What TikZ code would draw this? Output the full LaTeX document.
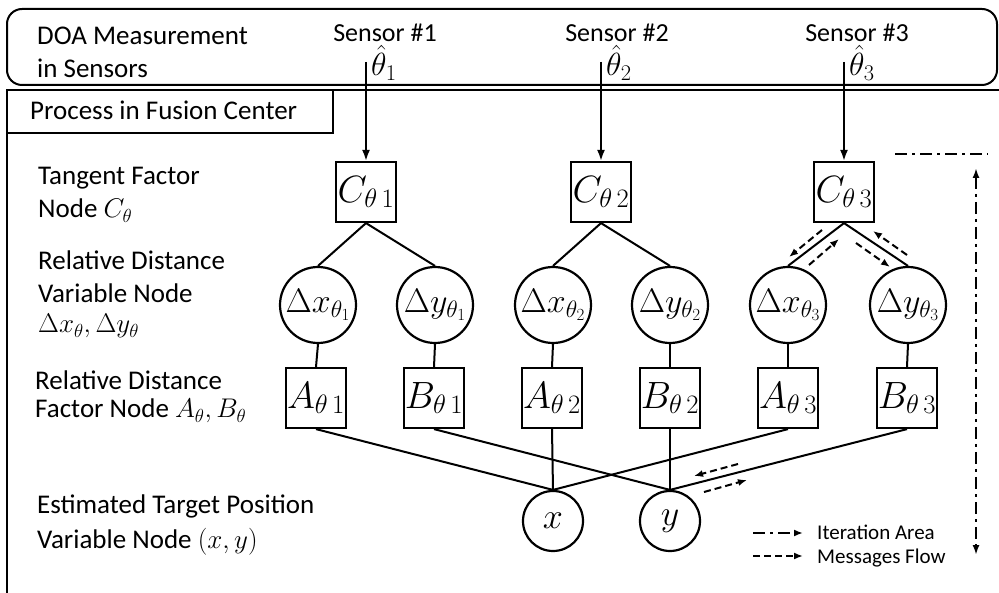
\RequirePackage{fix-cm}
\documentclass[tikz,border=0pt]{standalone}
\usepackage[no-math]{fontspec}
\setmainfont{Carlito}
\usetikzlibrary{arrows.meta}
\begin{document}
\begin{tikzpicture}[x=1pt,y=-1pt,
  fac/.style={draw,line width=2.2pt,minimum size=60pt,inner sep=0pt,font=\fontsize{38}{44}\selectfont},
  var/.style={circle,draw,line width=2.2pt,minimum size=76pt,inner sep=0pt,font=\fontsize{34}{40}\selectfont},
  tgt/.style={circle,draw,line width=2.2pt,minimum size=60pt,inner sep=0pt,font=\fontsize{36}{42}\selectfont},
  lab/.style={anchor=base west,font=\fontsize{27}{32}\selectfont,inner sep=0pt},
  sens/.style={anchor=base,font=\fontsize{26}{31}\selectfont,inner sep=0pt,text depth=0pt},
  hat/.style={anchor=base west,font=\fontsize{32}{38}\selectfont,inner sep=0pt},
  leg/.style={anchor=base west,font=\fontsize{21}{25}\selectfont,inner sep=0pt},
  edge/.style={line width=2pt},
  inarrow/.style={line width=2pt,-{Latex[length=11pt,width=8pt]}},
  msg/.style={line width=2pt,dash pattern=on 7pt off 4pt,-{Latex[length=9pt,width=7pt]}},
  iter/.style={line width=2pt,dash pattern=on 12pt off 5pt on 3pt off 5pt},
]
\useasboundingbox (0,0) rectangle (999,593);

% frames
\draw[line width=2pt,rounded corners=15pt] (7,9) rectangle (997,85);
\draw[line width=2pt] (7,593) -- (7,90) -- (999,90);
\draw[line width=2pt] (7,90) rectangle (333,133);

% header texts
\node[lab] (doa1) at (37,45) {DOA Measurement};
\node[lab] (doa2) at (37,78) {in Sensors};
\node[lab] (proc) at (30,120) {Process in Fusion Center};
\node[sens] (s1) at (385,42) {Sensor \#1};
\node[sens] (s2) at (617,42) {Sensor \#2};
\node[sens] (s3) at (857,42) {Sensor \#3};
\node[hat] (th1) at (371,76) {$\hat{\theta}_1$};
\node[hat] (th2) at (606,76) {$\hat{\theta}_2$};
\node[hat] (th3) at (849,76) {$\hat{\theta}_3$};

% left labels
\node[lab] (l1a) at (38,185) {Tangent Factor};
\node[lab] (l1b) at (38,218) {Node $C_\theta$};
\node[lab] (l2a) at (38,270) {Relative Distance};
\node[lab] (l2b) at (38,303) {Variable Node};
\node[lab] (l2c) at (38,333) {$\Delta x_\theta,\Delta y_\theta$};
\node[lab] (l3a) at (35,390) {Relative Distance};
\node[lab] (l3b) at (35,418) {Factor Node $A_\theta,B_\theta$};
\node[lab] (l4a) at (37,513) {Estimated Target Position};
\node[lab] (l4b) at (37,548) {Variable Node $(x,y)$};

% factor C
\node[fac] (C1) at (366,192) {$C_{\theta\,1}$};
\node[fac] (C2) at (601,192) {$C_{\theta\,2}$};
\node[fac] (C3) at (844,192) {$C_{\theta\,3}$};

% variable nodes
\node[var] (dx1) at (318,305) {$\Delta x_{\theta_1}$};
\node[var] (dy1) at (435,305) {$\Delta y_{\theta_1}$};
\node[var] (dx2) at (553,305) {$\Delta x_{\theta_2}$};
\node[var] (dy2) at (670,305) {$\Delta y_{\theta_2}$};
\node[var] (dx3) at (788,305) {$\Delta x_{\theta_3}$};
\node[var] (dy3) at (908,305) {$\Delta y_{\theta_3}$};

% A/B factor nodes
\node[fac] (A1) at (316,398) {$A_{\theta\,1}$};
\node[fac] (B1) at (434,398) {$B_{\theta\,1}$};
\node[fac] (A2) at (552,398) {$A_{\theta\,2}$};
\node[fac] (B2) at (670,398) {$B_{\theta\,2}$};
\node[fac] (A3) at (788,398) {$A_{\theta\,3}$};
\node[fac] (B3) at (907,398) {$B_{\theta\,3}$};

% target nodes
\node[tgt] (x) at (553,521) {$x$};
\node[tgt] (y) at (670,521) {$y$};

% input arrows
\coordinate (t1) at (366,62);
\coordinate (t2) at (601,62);
\coordinate (t3) at (844,62);
\draw[inarrow] (t1) -- (C1.north);
\draw[inarrow] (t2) -- (C2.north);
\draw[inarrow] (t3) -- (C3.north);

% edges
\foreach \c/\a/\b in {C1/dx1/dy1,C2/dx2/dy2,C3/dx3/dy3}{
  \draw[edge] (\c.south) -- (\a.north);
  \draw[edge] (\c.south) -- (\b.north);
}
\foreach \v/\f in {dx1/A1,dy1/B1,dx2/A2,dy2/B2,dx3/A3,dy3/B3}{
  \draw[edge] (\v.south) -- (\f.north);
}
\draw[edge] (A1.south) -- (x.north);
\draw[edge] (A2.south) -- (x.north);
\draw[edge] (A3.south) -- (x.north);
\draw[edge] (B1.south) -- (y.north);
\draw[edge] (B2.south) -- (y.north);
\draw[edge] (B3.south) -- (y.north);

% message flow arrows
\coordinate (m1a) at (822,230); \coordinate (m1b) at (789,257);
\coordinate (m2a) at (809,265); \coordinate (m2b) at (839,239);
\coordinate (m3a) at (856,243); \coordinate (m3b) at (890,267);
\coordinate (m4a) at (907,255); \coordinate (m4b) at (873,231);
\coordinate (m5a) at (738,464); \coordinate (m5b) at (694,476);
\coordinate (m6a) at (704,492); \coordinate (m6b) at (747,480);
\draw[msg] (m1a) -- (m1b);
\draw[msg] (m2a) -- (m2b);
\draw[msg] (m3a) -- (m3b);
\draw[msg] (m4a) -- (m4b);
\draw[msg] (m5a) -- (m5b);
\draw[msg] (m6a) -- (m6b);

% iteration area
\coordinate (i1) at (895,154); \coordinate (i2) at (988,154);
\coordinate (i3) at (976,168); \coordinate (i4) at (976,555);
\draw[iter] (i1) -- (i2);
\draw[iter,{Latex[length=10pt,width=7pt]}-{Latex[length=10pt,width=7pt]}] (i3) -- (i4);

% legend
\coordinate (g1a) at (753,533); \coordinate (g1b) at (803,533);
\coordinate (g2a) at (753,556); \coordinate (g2b) at (803,556);
\draw[iter,-{Latex[length=9pt,width=7pt]}] (g1a) -- (g1b);
\draw[msg] (g2a) -- (g2b);
\node[leg] (lg1) at (817,539) {Iteration Area};
\node[leg] (lg2) at (817,563) {Messages Flow};
\end{tikzpicture}
\end{document}
